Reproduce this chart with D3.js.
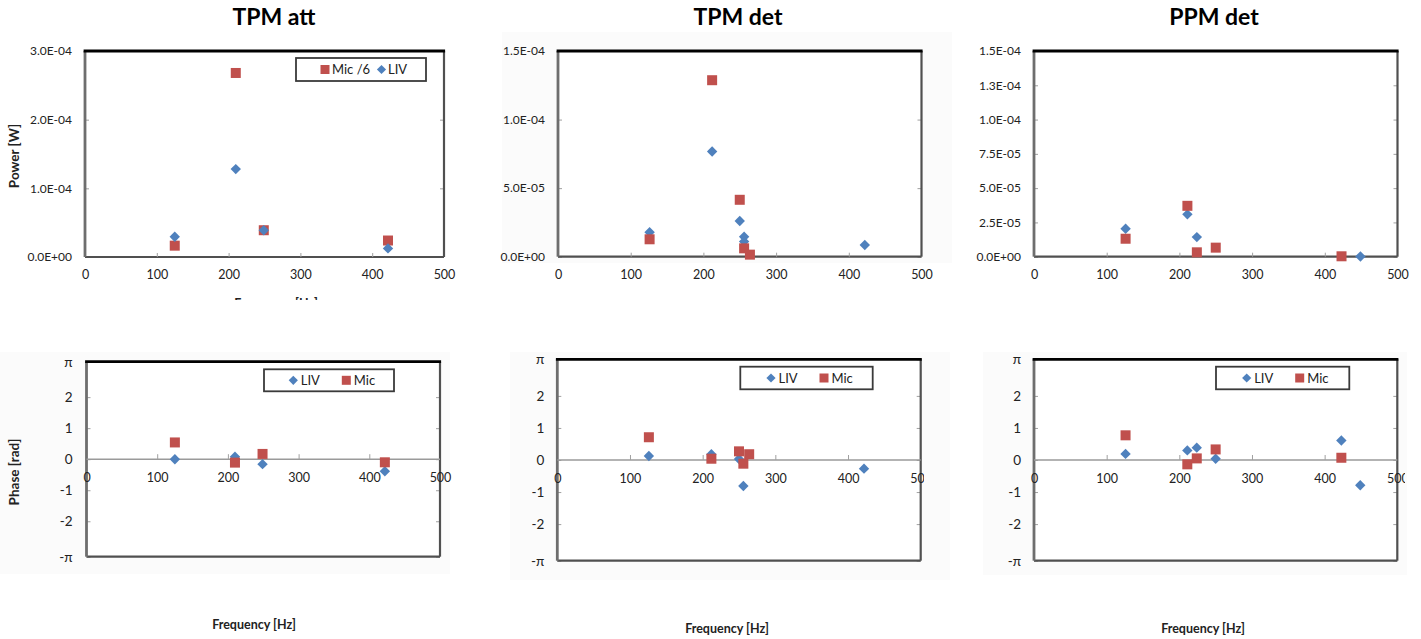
<!DOCTYPE html>
<html>
<head>
<meta charset="utf-8">
<script src="https://cdn.jsdelivr.net/npm/d3@7"></script>
<style>
  body { margin: 0; background: #fff; }
  svg { display: block; }
  text { font-family: Lato, "Open Sans", "Liberation Sans", sans-serif; }
</style>
</head>
<body>
<svg id="chart" width="1421" height="639"></svg>
<script>
// ---- data -----------------------------------------------------------------
const titles = ["TPM att", "TPM det", "PPM det"];
const freqTicks = [0, 100, 200, 300, 400, 500];

const powerTicksTpmAtt = [0, 1e-4, 2e-4, 3e-4];
const powerTicksTpmDet = [0, 5e-5, 1e-4, 1.5e-4];
const powerTicksPpmDet = [0, 2.5e-5, 5e-5, 7.5e-5, 1e-4, 1.25e-4, 1.5e-4];
const phaseTicks = [-Math.PI, -2, -1, 0, 1, 2, Math.PI];
const phaseTickLabels = ["-\u03c0", "-2", "-1", "0", "1", "2", "\u03c0"];

// TPM att
const tpmAttFreq = [125, 210, 249, 422];
const tpmAttLivPower = [2.95e-5, 1.28e-4, 3.9e-5, 1.25e-5];
const tpmAttMic6Power = [1.65e-5, 2.68e-4, 3.9e-5, 2.4e-5];
const tpmAttLivPhase = [0.0, 0.08, -0.16, -0.39];
const tpmAttMicPhase = [0.54, -0.11, 0.17, -0.10];

// TPM det
const tpmDetLivPowerFreq = [126, 212, 250, 256, 256, 422];
const tpmDetLivPower = [1.78e-5, 7.67e-5, 2.6e-5, 1.46e-5, 1.1e-5, 8.5e-6];
const tpmDetMicFreq = [126, 212, 250, 256, 264];
const tpmDetMicPower = [1.27e-5, 1.287e-4, 4.15e-5, 6.1e-6, 1.5e-6];
const tpmDetLivPhaseFreq = [126, 212, 250, 256, 422];
const tpmDetLivPhase = [0.125, 0.18, 0.03, -0.81, -0.27];
const tpmDetMicPhase = [0.71, 0.04, 0.27, -0.115, 0.18];

// PPM det
const ppmDetLivPowerFreq = [126, 211, 224, 449];
const ppmDetLivPower = [2.04e-5, 3.09e-5, 1.43e-5, 2e-7];
const ppmDetMicFreq = [126, 211, 224, 250, 423];
const ppmDetMicPower = [1.31e-5, 3.71e-5, 3.2e-6, 6.6e-6, 3e-7];
const ppmDetLivPhaseFreq = [126, 211, 224, 250, 423, 449];
const ppmDetLivPhase = [0.19, 0.30, 0.385, 0.04, 0.61, -0.79];
const ppmDetMicPhase = [0.77, -0.135, 0.05, 0.33, 0.07];

// ---- styling ----------------------------------------------------------------
const MIC_COLOR = "#C0504D";
const LIV_COLOR = "#4F81BD";

const zip = (xs, ys) => xs.map((f, i) => ({ f, v: ys[i] }));

// Excel-style scientific labels, e.g. 2.5E-05
function sciLabel(v) {
  if (v === 0) return "0.0E+00";
  const [m, e] = (v * 1.0000001).toExponential(1).split("e");
  const n = +e;
  return m + "E" + (n < 0 ? "-" : "+") + String(Math.abs(n)).padStart(2, "0");
}

const svg = d3.select("#chart");
const defs = svg.append("defs");

// faint chart-area backgrounds
const bgAreas = [
  { x: 502, y: 32, w: 450, h: 231 },
  { x: 0, y: 352, w: 450, h: 222 },
  { x: 510, y: 352, w: 440, h: 228 },
  { x: 983, y: 352, w: 424, h: 223 }
];
svg.selectAll("rect.bg").data(bgAreas).join("rect")
  .attr("class", "bg")
  .attr("x", d => d.x).attr("y", d => d.y)
  .attr("width", d => d.w).attr("height", d => d.h)
  .attr("fill", "#fbfbfb");

function diamondPath(r) {
  return `M0,${-r}L${r},0L0,${r}L${-r},0Z`;
}

function drawMarkers(g, pts, x, y, kind) {
  if (kind === "mic") {
    g.append("g").selectAll("rect").data(pts).join("rect")
      .attr("x", d => x(d.f) - 5).attr("y", d => y(d.v) - 5)
      .attr("width", 10).attr("height", 10)
      .attr("fill", MIC_COLOR);
  } else {
    g.append("g").selectAll("path").data(pts).join("path")
      .attr("d", diamondPath(5.2))
      .attr("transform", d => `translate(${x(d.f)},${y(d.v)})`)
      .attr("fill", LIV_COLOR);
  }
}

function drawLegend(g, box, items) {
  g.append("rect")
    .attr("x", box.x).attr("y", box.y)
    .attr("width", box.w).attr("height", box.h)
    .attr("fill", "#fff").attr("stroke", "#3a3a3a").attr("stroke-width", 1.8);
  const cy = box.y + box.h / 2;
  items.forEach(it => {
    if (it.kind === "mic") {
      g.append("rect").attr("x", it.mx - 4.5).attr("y", cy - 4.5)
        .attr("width", 9).attr("height", 9).attr("fill", MIC_COLOR);
    } else {
      g.append("path").attr("d", diamondPath(4.6))
        .attr("transform", `translate(${it.mx},${cy})`).attr("fill", LIV_COLOR);
    }
    g.append("text").attr("x", it.tx).attr("y", cy)
      .attr("dy", "0.35em").attr("font-size", 13).attr("fill", "#222")
      .text(it.label);
  });
}

let clipCount = 0;

function drawPanel(cfg) {
  const g = svg.append("g");
  const x = d3.scaleLinear().domain([0, 500]).range([cfg.left, cfg.right]);
  const y = d3.scaleLinear().domain(cfg.yDomain).range([cfg.bottom, cfg.top]);

  // plot area
  g.append("rect")
    .attr("x", cfg.left).attr("y", cfg.top)
    .attr("width", cfg.right - cfg.left).attr("height", cfg.bottom - cfg.top)
    .attr("fill", "#fff");

  // y axis: inward ticks on both sides, labels on the left
  const yl = g.append("g").attr("transform", `translate(${cfg.left},0)`)
    .call(d3.axisLeft(y).tickValues(cfg.yTicks)
      .tickFormat((d, i) => cfg.yLabels ? cfg.yLabels[i] : sciLabel(d))
      .tickSize(-4).tickPadding(cfg.yPad));
  const yr = g.append("g").attr("transform", `translate(${cfg.right},0)`)
    .call(d3.axisRight(y).tickValues(cfg.yTicks).tickFormat("").tickSize(-4));
  [yl, yr].forEach(a => {
    a.select(".domain").remove();
    a.selectAll(".tick line").attr("stroke", "#a0a0a0");
  });
  yl.selectAll("text").attr("font-size", cfg.ySize).attr("fill", "#222")
    .attr("font-family", "Lato, 'Open Sans', sans-serif");

  // frame
  const fr = g.append("g").attr("fill", "none");
  fr.append("line").attr("x1", cfg.left).attr("x2", cfg.right)
    .attr("y1", cfg.bottom).attr("y2", cfg.bottom)
    .attr("stroke", "#505050").attr("stroke-width", 2.2);
  fr.append("line").attr("x1", cfg.right).attr("x2", cfg.right)
    .attr("y1", cfg.top).attr("y2", cfg.bottom)
    .attr("stroke", "#505050").attr("stroke-width", 2.2);
  fr.append("line").attr("x1", cfg.left).attr("x2", cfg.left)
    .attr("y1", cfg.top).attr("y2", cfg.bottom)
    .attr("stroke", "#6e6e6e").attr("stroke-width", 2.8);
  fr.append("line").attr("x1", cfg.left - 1.4).attr("x2", cfg.right + 1.1)
    .attr("y1", cfg.top).attr("y2", cfg.top)
    .attr("stroke", "#000").attr("stroke-width", 2.8);

  // x axis: along the bottom for power, along zero for phase
  const xAxisY = cfg.phase ? y(0) : cfg.bottom;
  if (cfg.phase) {
    g.append("line").attr("x1", cfg.left).attr("x2", cfg.right)
      .attr("y1", xAxisY).attr("y2", xAxisY)
      .attr("stroke", "#9a9a9a").attr("stroke-width", 1.5);
  }
  const xa = g.append("g").attr("transform", `translate(0,${xAxisY})`)
    .call(d3.axisBottom(x).tickValues(freqTicks).tickSize(cfg.phase ? -5 : -4)
      .tickPadding(cfg.xPad));
  xa.select(".domain").remove();
  xa.selectAll(".tick line").attr("stroke", "#a0a0a0")
    .filter(d => d === 0 || d === 500).remove();
  xa.selectAll("text").attr("font-size", 12.5).attr("fill", "#222")
    .attr("font-family", "Lato, 'Open Sans', sans-serif");

  // labels that run past the chart's right edge are cut there
  if (cfg.clipRight) {
    const id = "xcut" + (clipCount++);
    defs.append("clipPath").attr("id", id)
      .append("rect").attr("x", -2000).attr("y", -50)
      .attr("width", 2000 + cfg.clipRight).attr("height", 100);
    xa.attr("clip-path", `url(#${id})`);
  }

  // series
  cfg.series.forEach(s => drawMarkers(g, s.pts, x, y, s.kind));

  if (cfg.legend) drawLegend(g, cfg.legend.box, cfg.legend.items);
}

// ---- power row ---------------------------------------------------------------
drawPanel({
  left: 85, right: 444, top: 51, bottom: 257,
  yDomain: [0, 3e-4], yTicks: powerTicksTpmAtt, yPad: 13, ySize: 12, xPad: 13,
  series: [
    { kind: "mic", pts: zip(tpmAttFreq, tpmAttMic6Power) },
    { kind: "liv", pts: zip(tpmAttFreq, tpmAttLivPower) }
  ],
  legend: {
    box: { x: 296, y: 58, w: 130, h: 23 },
    items: [
      { kind: "mic", mx: 325, tx: 332, label: "Mic /6" },
      { kind: "liv", mx: 381.5, tx: 388, label: "LIV" }
    ]
  }
});
drawPanel({
  left: 558, right: 921.5, top: 51, bottom: 256.7,
  yDomain: [0, 1.5e-4], yTicks: powerTicksTpmDet, yPad: 13, ySize: 12, xPad: 13,
  series: [
    { kind: "liv", pts: zip(tpmDetLivPowerFreq, tpmDetLivPower) },
    { kind: "mic", pts: zip(tpmDetMicFreq, tpmDetMicPower) }
  ]
});
drawPanel({
  left: 1034, right: 1397.5, top: 51, bottom: 256.7,
  yDomain: [0, 1.5e-4], yTicks: powerTicksPpmDet, yPad: 13, ySize: 12, xPad: 13,
  series: [
    { kind: "liv", pts: zip(ppmDetLivPowerFreq, ppmDetLivPower) },
    { kind: "mic", pts: zip(ppmDetMicFreq, ppmDetMicPower) }
  ]
});

// ---- phase row ---------------------------------------------------------------
const phaseLegendItems = (x0) => [
  { kind: "liv", mx: x0, tx: x0 + 7.5, label: "LIV" },
  { kind: "mic", mx: x0 + 53, tx: x0 + 60.5, label: "Mic" }
];
drawPanel({
  left: 86.5, right: 440, top: 361.7, bottom: 556.7, phase: true,
  yDomain: [-Math.PI, Math.PI], yTicks: phaseTicks, yLabels: phaseTickLabels,
  yPad: 14, ySize: 13.5, xPad: 14,
  series: [
    { kind: "liv", pts: zip(tpmAttFreq, tpmAttLivPhase) },
    { kind: "mic", pts: zip(tpmAttFreq, tpmAttMicPhase) }
  ],
  legend: { box: { x: 264, y: 369.3, w: 130, h: 22 }, items: phaseLegendItems(293.3) }
});
drawPanel({
  left: 557.3, right: 920.7, top: 359.3, bottom: 560.7, phase: true, clipRight: 924,
  yDomain: [-Math.PI, Math.PI], yTicks: phaseTicks, yLabels: phaseTickLabels,
  yPad: 13, ySize: 13.5, xPad: 14,
  series: [
    { kind: "liv", pts: zip(tpmDetLivPhaseFreq, tpmDetLivPhase) },
    { kind: "mic", pts: zip(tpmDetMicFreq, tpmDetMicPhase) }
  ],
  legend: { box: { x: 740.3, y: 366.7, w: 132.4, h: 22.6 }, items: phaseLegendItems(771) }
});
drawPanel({
  left: 1034, right: 1397.3, top: 359.3, bottom: 560.7, phase: true, clipRight: 1405,
  yDomain: [-Math.PI, Math.PI], yTicks: phaseTicks, yLabels: phaseTickLabels,
  yPad: 13, ySize: 13.5, xPad: 14,
  series: [
    { kind: "liv", pts: zip(ppmDetLivPhaseFreq, ppmDetLivPhase) },
    { kind: "mic", pts: zip(ppmDetMicFreq, ppmDetMicPhase) }
  ],
  legend: { box: { x: 1216, y: 366.7, w: 133.3, h: 22.6 }, items: phaseLegendItems(1246.7) }
});

// ---- titles and axis titles ----------------------------------------------------
const titleX = [274, 738, 1214];
svg.selectAll("text.title").data(titles).join("text")
  .attr("class", "title")
  .attr("x", (d, i) => titleX[i]).attr("y", 17).attr("dy", "0.35em")
  .attr("text-anchor", "middle").attr("font-size", 23).attr("font-weight", 700)
  .attr("fill", "#000").text(d => d);

svg.append("text")
  .attr("transform", "translate(14,156) rotate(-90)")
  .attr("text-anchor", "middle").attr("dy", "0.35em")
  .attr("font-size", 13.5).attr("font-weight", 700).attr("fill", "#222")
  .text("Power [W]");
svg.append("text")
  .attr("transform", "translate(14,472) rotate(-90)")
  .attr("text-anchor", "middle").attr("dy", "0.35em")
  .attr("font-size", 13.5).attr("font-weight", 700).attr("fill", "#222")
  .text("Phase [rad]");

// frequency titles under the phase row
const freqTitleX = [254, 727, 1203];
const freqTitleY = [625, 629, 629];
svg.selectAll("text.xtitle").data(freqTitleX).join("text")
  .attr("class", "xtitle")
  .attr("x", d => d).attr("y", (d, i) => freqTitleY[i]).attr("dy", "0.35em")
  .attr("text-anchor", "middle").attr("font-size", 12.5).attr("font-weight", 700)
  .attr("fill", "#222").text("Frequency [Hz]");

// the first power chart's own frequency title, cut off by its chart edge
defs.append("clipPath").attr("id", "cut-att")
  .append("rect").attr("x", 0).attr("y", 0).attr("width", 480).attr("height", 300);
svg.append("text")
  .attr("clip-path", "url(#cut-att)")
  .attr("x", 276).attr("y", 308)
  .attr("text-anchor", "middle").attr("font-size", 12.5).attr("font-weight", 700)
  .attr("fill", "#222").text("Frequency [Hz]");
</script>
</body>
</html>
